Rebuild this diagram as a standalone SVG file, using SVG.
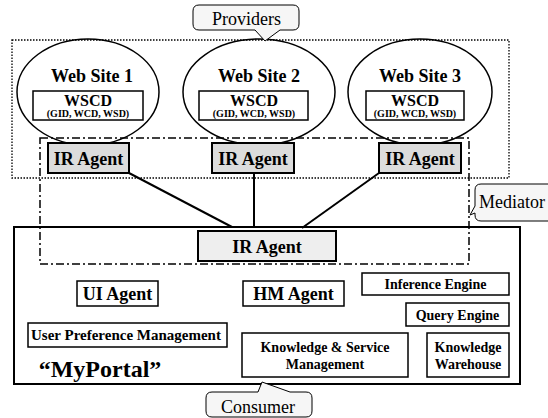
<svg xmlns="http://www.w3.org/2000/svg" width="548" height="418" viewBox="0 0 548 418" font-family="Liberation Serif, Times New Roman, serif">
<style>
.b{font-weight:bold;fill:#000;text-anchor:middle}
.r{fill:#000}
.box{fill:#fff;stroke:#000;stroke-width:1.5}
.ir{fill:#dcdcdc;stroke:#000;stroke-width:2}
.ell{fill:none;stroke:#000;stroke-width:1.5}
.call{fill:#f6f6f6;stroke:#000;stroke-width:1}
.ln{stroke:#000;stroke-width:2;fill:none}
</style>
<rect width="548" height="418" fill="#fff"/>
<g id="consumer-area">
<rect x="14" y="227" width="506" height="157" fill="#fff" stroke="#000" stroke-width="2"/>
<text class="b" x="100" y="377" font-size="24" font-family="Liberation Serif">“MyPortal”</text>
</g>
<g id="providers-area">
<rect x="12" y="40" width="497" height="138" fill="none" stroke="#000" stroke-width="1.3" stroke-dasharray="1.5,1.5"/>
</g>
<g id="site1">
<ellipse class="ell" cx="88" cy="92" rx="71" ry="53"/>
<text class="b" x="92" y="82" font-size="18">Web Site 1</text>
<rect class="box" x="33" y="91" width="110" height="29"/>
<text class="b" x="88" y="106" font-size="16">WSCD</text>
<text class="b" x="88" y="117" font-size="10">(GID, WCD, WSD)</text>
</g>
<g id="site2">
<ellipse class="ell" cx="259" cy="92" rx="76" ry="53"/>
<text class="b" x="259" y="82" font-size="18">Web Site 2</text>
<rect class="box" x="199" y="91" width="109" height="29"/>
<text class="b" x="254" y="106" font-size="16">WSCD</text>
<text class="b" x="254" y="117" font-size="10">(GID, WCD, WSD)</text>
</g>
<g id="site3">
<ellipse class="ell" cx="420" cy="92" rx="72" ry="53"/>
<text class="b" x="420" y="82" font-size="18">Web Site 3</text>
<rect class="box" x="366" y="91" width="98" height="29"/>
<text class="b" x="415" y="106" font-size="16">WSCD</text>
<text class="b" x="415" y="117" font-size="10">(GID, WCD, WSD)</text>
</g>
<g id="mediator-area">
<rect x="40" y="138" width="429" height="126" fill="none" stroke="#000" stroke-width="1.5" stroke-dasharray="8,3,2,3"/>
</g>
<g id="connectors">
<line class="ln" x1="129" y1="173" x2="232" y2="227"/>
<line class="ln" x1="254" y1="173" x2="254" y2="227"/>
<line class="ln" x1="379" y1="173" x2="302" y2="228"/>
</g>
<g id="ir1">
<rect class="ir" x="48" y="143" width="81" height="30"/>
<text class="b" x="88.5" y="165" font-size="18">IR Agent</text>
</g>
<g id="ir2">
<rect class="ir" x="212" y="143" width="82" height="30"/>
<text class="b" x="253" y="165" font-size="18">IR Agent</text>
</g>
<g id="ir3">
<rect class="ir" x="379" y="143" width="82" height="30"/>
<text class="b" x="420" y="165" font-size="18">IR Agent</text>
</g>
<g id="ir-center">
<rect x="198" y="231" width="138" height="30" fill="#eeeeee" stroke="#000" stroke-width="2"/>
<text class="b" x="267" y="253" font-size="18">IR Agent</text>
</g>
<g id="ui-agent">
<rect class="box" x="77" y="281" width="81" height="25"/>
<text class="b" x="117.5" y="300" font-size="18">UI Agent</text>
</g>
<g id="hm-agent">
<rect class="box" x="243" y="281" width="101" height="25"/>
<text class="b" x="293.5" y="300" font-size="18">HM Agent</text>
</g>
<g id="inference-engine">
<rect class="box" x="362" y="273" width="147" height="22"/>
<text class="b" x="435.5" y="289" font-size="14">Inference Engine</text>
</g>
<g id="query-engine">
<rect class="box" x="406" y="303" width="103" height="23"/>
<text class="b" x="457.5" y="320" font-size="14">Query Engine</text>
</g>
<g id="user-preference">
<rect class="box" x="28" y="323" width="199" height="24"/>
<text class="b" x="126" y="340" font-size="15">User Preference Management</text>
</g>
<g id="ks-management">
<rect class="box" x="242" y="333" width="166" height="44"/>
<text class="b" x="325" y="352" font-size="14">Knowledge &amp; Service</text>
<text class="b" x="325" y="369" font-size="14">Management</text>
</g>
<g id="knowledge-warehouse">
<rect class="box" x="427" y="333" width="82" height="44"/>
<text class="b" x="468" y="352" font-size="14">Knowledge</text>
<text class="b" x="468" y="369" font-size="14">Warehouse</text>
</g>
<g id="providers-callout">
<path class="call" d="M199,5 H293 Q299,5 299,11 V24 Q299,30 293,30 H280 L265,41 L255,30 H199 Q193,30 193,24 V11 Q193,5 199,5 Z"/>
<text class="r" x="212" y="25" font-size="18">Providers</text>
</g>
<g id="mediator-callout">
<path class="call" d="M481,184 H560 V221 H481 Q475,221 475,215 V213 L470,215 L475,206 V190 Q475,184 481,184 Z"/>
<text class="r" x="479" y="208" font-size="18">Mediator</text>
</g>
<g id="consumer-callout">
<path class="call" d="M212,392 H258 L262,382 L290,392 H306 Q312,392 312,398 V411 Q312,417 306,417 H212 Q206,417 206,411 V398 Q206,392 212,392 Z"/>
<text class="r" x="221" y="413" font-size="18">Consumer</text>
</g>
</svg>
